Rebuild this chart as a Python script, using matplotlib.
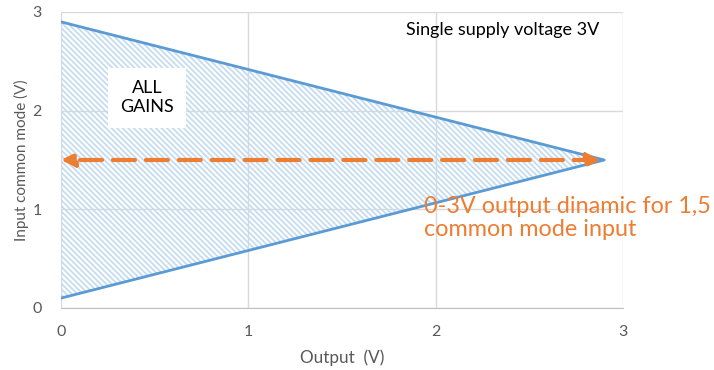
import matplotlib
matplotlib.use("Agg")
import matplotlib.pyplot as plt

plt.rcParams['font.family'] = ['Lato', 'DejaVu Sans']
plt.rcParams['hatch.linewidth'] = 1.3

# triangle boundary (output V, input common mode V)
out_v = [0.0, 2.9, 0.0]
cm_v = [2.9, 1.5, 0.1]
ticks = [0, 1, 2, 3]
arrow_y = 1.5
arrow_x = [0.0, 2.88]

blue = '#5b9bd5'
hatch_blue = '#c5dcf0'
orange = '#ed7d31'
grid = '#d9d9d9'
tick_gray = '#595959'

fig = plt.figure(figsize=(7.14, 3.7), dpi=100)
ax = fig.add_axes([0.0854, 0.1676, 0.7871, 0.8])

ax.fill(out_v, cm_v, facecolor='none', edgecolor=hatch_blue,
        hatch='\\' * 6, linewidth=0)
# only the two sloped edges are drawn
ax.plot(out_v, cm_v, color=blue, lw=2)

ax.annotate('', xy=(arrow_x[0], arrow_y), xytext=(arrow_x[1], arrow_y),
            arrowprops=dict(arrowstyle='<|-|>', color=orange, lw=3,
                            linestyle=(0, (5.3, 2.6)), mutation_scale=20,
                            shrinkA=0, shrinkB=0))

ax.text(0.46, 2.13, 'ALL\nGAINS', ha='center', va='center', fontsize=13,
        color='black', linespacing=1.25,
        bbox=dict(facecolor='white', edgecolor='none', pad=9))
ax.text(2.36, 2.82, 'Single supply voltage 3V', ha='center', va='center',
        fontsize=13, color='black')
ax.text(1.94, 0.91, '0-3V output dinamic for 1,5\ncommon mode input',
        ha='left', va='center', fontsize=16.8, color=orange, linespacing=1.15,
        clip_on=False)

ax.set_xlim(0, 3)
ax.set_ylim(0, 3)
ax.set_xticks(ticks)
ax.set_yticks(ticks)
ax.grid(True, color=grid, lw=1)
ax.set_axisbelow(True)
for s in ['top', 'right', 'left']:
    ax.spines[s].set_visible(False)
ax.spines['bottom'].set_color('#bfbfbf')
ax.tick_params(length=0, colors=tick_gray, labelsize=11.5, pad=12)
ax.tick_params(axis='y', pad=14)
ax.set_xlabel('Output  (V)', fontsize=12.3, color=tick_gray, labelpad=8)
ax.set_ylabel('Input common mode (V)', fontsize=11, color=tick_gray, labelpad=2)

fig.savefig('out.png', dpi=100)
